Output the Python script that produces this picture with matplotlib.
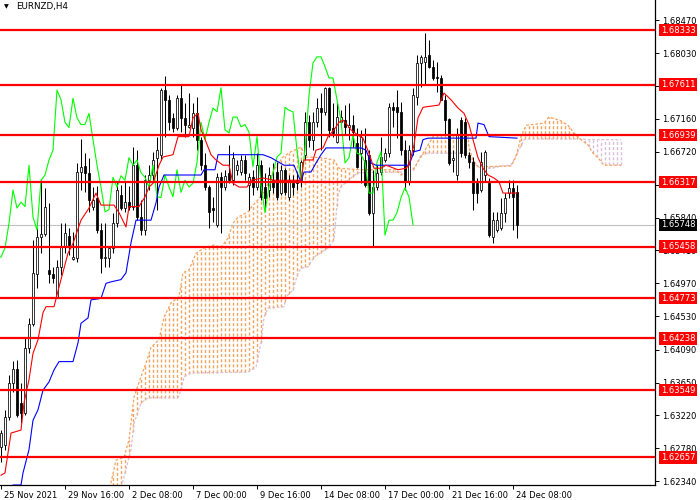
import numpy as np
import matplotlib
matplotlib.use("Agg")
import matplotlib.pyplot as plt
import matplotlib.transforms as mtransforms

# ---------------- data ----------------
SYMBOL = "EURNZD,H4"

opens = [1.6280, 1.6282, 1.6319, 1.6365, 1.6383, 1.6338, 1.6325, 1.6411, 1.6443, 1.6510,
         1.6559, 1.6563, 1.6515, 1.6510, 1.6479, 1.6519, 1.6545, 1.6560, 1.6529, 1.6531,
         1.6645, 1.6653, 1.6644, 1.6599, 1.6611, 1.6568, 1.6531, 1.6531, 1.6544, 1.6577,
         1.6615, 1.6597, 1.6605, 1.6599, 1.6654, 1.6585, 1.6568, 1.6634, 1.6641, 1.6664,
         1.6668, 1.6754, 1.6741, 1.6717, 1.6704, 1.6743, 1.6717, 1.6705, 1.6704, 1.6723,
         1.6688, 1.6654, 1.6625, 1.6597, 1.6575, 1.6638, 1.6625, 1.6644, 1.6634, 1.6648,
         1.6645, 1.6661, 1.6628, 1.6638, 1.6625, 1.6654, 1.6625, 1.6621, 1.6634, 1.6645,
         1.6617, 1.6648, 1.6612, 1.6630, 1.6634, 1.6634, 1.6668, 1.6711, 1.6688, 1.6711,
         1.6730, 1.6725, 1.6757, 1.6704, 1.6685, 1.6711, 1.6714, 1.6705, 1.6708, 1.6684,
         1.6670, 1.6661, 1.6668, 1.6591, 1.6625, 1.6645, 1.6661, 1.6670, 1.6731, 1.6731,
         1.6725, 1.6674, 1.6632, 1.6674, 1.6745, 1.6790, 1.6791, 1.6800, 1.6785, 1.6771,
         1.6770, 1.6741, 1.6715, 1.6661, 1.6641, 1.6714, 1.6711, 1.6668, 1.6658, 1.6630,
         1.6621, 1.6641, 1.6630, 1.6559, 1.6568, 1.6571, 1.6591, 1.6617, 1.6624, 1.6618]
highs = [1.6302, 1.6329, 1.6375, 1.6394, 1.6395, 1.6365, 1.6424, 1.6451, 1.6555, 1.6571,
         1.6634, 1.6624, 1.6604, 1.6519, 1.6528, 1.6577, 1.6577, 1.6571, 1.6565, 1.6657,
         1.6689, 1.6670, 1.6664, 1.6625, 1.6626, 1.6577, 1.6577, 1.6545, 1.6591, 1.6632,
         1.6628, 1.6632, 1.6626, 1.6678, 1.6674, 1.6608, 1.6641, 1.6654, 1.6672, 1.6692,
         1.6757, 1.6773, 1.6747, 1.6723, 1.6747, 1.6761, 1.6737, 1.6750, 1.6737, 1.6745,
         1.6692, 1.6670, 1.6628, 1.6612, 1.6644, 1.6645, 1.6648, 1.6681, 1.6672, 1.6661,
         1.6668, 1.6668, 1.6644, 1.6648, 1.6670, 1.6661, 1.6644, 1.6652, 1.6657, 1.6658,
         1.6654, 1.6650, 1.6641, 1.6641, 1.6645, 1.6661, 1.6725, 1.6721, 1.6725, 1.6743,
         1.6750, 1.6758, 1.6758, 1.6737, 1.6737, 1.6727, 1.6734, 1.6737, 1.6721, 1.6704,
         1.6701, 1.6704, 1.6674, 1.6648, 1.6654, 1.6692, 1.6677, 1.6737, 1.6738, 1.6754,
         1.6738, 1.6688, 1.6681, 1.6757, 1.6800, 1.6800, 1.6830, 1.6820, 1.6794, 1.6791,
         1.6774, 1.6747, 1.6717, 1.6674, 1.6704, 1.6718, 1.6717, 1.6672, 1.6665, 1.6637,
         1.6672, 1.6674, 1.6637, 1.6592, 1.6592, 1.6611, 1.6617, 1.6634, 1.6634, 1.6628]
lows = [1.6260, 1.6276, 1.6315, 1.6353, 1.6319, 1.6311, 1.6322, 1.6404, 1.6440, 1.6491,
        1.6537, 1.6560, 1.6498, 1.6498, 1.6478, 1.6508, 1.6537, 1.6535, 1.6528, 1.6525,
        1.6621, 1.6618, 1.6592, 1.6595, 1.6564, 1.6511, 1.6519, 1.6519, 1.6537, 1.6572,
        1.6595, 1.6592, 1.6595, 1.6595, 1.6581, 1.6561, 1.6561, 1.6621, 1.6634, 1.6595,
        1.6661, 1.6692, 1.6701, 1.6698, 1.6701, 1.6698, 1.6692, 1.6704, 1.6692, 1.6674,
        1.6648, 1.6621, 1.6571, 1.6579, 1.6572, 1.6564, 1.6621, 1.6630, 1.6628, 1.6641,
        1.6641, 1.6634, 1.6595, 1.6615, 1.6621, 1.6608, 1.6595, 1.6612, 1.6617, 1.6608,
        1.6615, 1.6615, 1.6608, 1.6615, 1.6621, 1.6625, 1.6661, 1.6678, 1.6674, 1.6705,
        1.6674, 1.6721, 1.6692, 1.6692, 1.6684, 1.6705, 1.6694, 1.6688, 1.6678, 1.6650,
        1.6630, 1.6625, 1.6588, 1.6545, 1.6621, 1.6641, 1.6658, 1.6665, 1.6705, 1.6690,
        1.6668, 1.6621, 1.6628, 1.6668, 1.6734, 1.6758, 1.6761, 1.6783, 1.6767, 1.6751,
        1.6741, 1.6694, 1.6654, 1.6645, 1.6634, 1.6665, 1.6664, 1.6650, 1.6595, 1.6604,
        1.6618, 1.6632, 1.6559, 1.6551, 1.6565, 1.6568, 1.6579, 1.6611, 1.6568, 1.6557]
closes = [1.6298, 1.6319, 1.6365, 1.6383, 1.6322, 1.6325, 1.6411, 1.6443, 1.6511, 1.6559,
          1.6563, 1.6599, 1.6510, 1.6504, 1.6519, 1.6545, 1.6564, 1.6548, 1.6532, 1.6645,
          1.6652, 1.6644, 1.6608, 1.6608, 1.6568, 1.6531, 1.6532, 1.6544, 1.6577, 1.6621,
          1.6597, 1.6605, 1.6599, 1.6654, 1.6585, 1.6568, 1.6634, 1.6641, 1.6661, 1.6674,
          1.6754, 1.6741, 1.6711, 1.6704, 1.6743, 1.6717, 1.6708, 1.6708, 1.6723, 1.6688,
          1.6654, 1.6625, 1.6592, 1.6595, 1.6638, 1.6625, 1.6640, 1.6634, 1.6664, 1.6654,
          1.6661, 1.6644, 1.6638, 1.6625, 1.6654, 1.6612, 1.6611, 1.6641, 1.6625, 1.6612,
          1.6648, 1.6618, 1.6634, 1.6625, 1.6630, 1.6658, 1.6711, 1.6688, 1.6711, 1.6730,
          1.6725, 1.6757, 1.6701, 1.6697, 1.6718, 1.6718, 1.6705, 1.6708, 1.6698, 1.6652,
          1.6692, 1.6628, 1.6591, 1.6625, 1.6644, 1.6665, 1.6670, 1.6731, 1.6727, 1.6725,
          1.6674, 1.6632, 1.6674, 1.6747, 1.6790, 1.6798, 1.6798, 1.6785, 1.6770, 1.6770,
          1.6741, 1.6714, 1.6657, 1.6664, 1.6694, 1.6670, 1.6668, 1.6658, 1.6617, 1.6617,
          1.6658, 1.6672, 1.6561, 1.6581, 1.6581, 1.6591, 1.6611, 1.6624, 1.6612, 1.65748]

# Ichimoku lines, vertices as (bar index, price)
tenkan_bar = [0, 1, 2.5, 5, 5.75, 7, 8, 9.25, 10.5, 11.25, 13.25, 14.5, 16.75, 18, 20, 22,
              23.75, 25, 28.25, 29.5, 31.25, 32, 34.5, 36, 37, 38, 39.5, 40.5, 43, 44.25,
              47, 48, 49.25, 50, 50.75, 52.5, 53.75, 55.5, 57, 58, 59.5, 61.5, 62.5, 65.5,
              68.25, 75, 75.75, 78, 78.75, 80.5, 81.75, 83.25, 84.5, 85.5, 86.5, 87.5, 89.25,
              90.5, 92, 93.25, 95, 96.25, 99.25, 101.25, 102, 103.25, 104.25, 105.5, 109.5,
              110.75, 112.5, 114.25, 115.75, 117, 118, 119.25, 120.5, 121.75, 123.25, 124.5,
              125.5, 129]
tenkan_val = [1.6242, 1.6245, 1.6298, 1.6302, 1.6338, 1.6369, 1.6404, 1.6422, 1.6458, 1.6466,
              1.6466, 1.6492, 1.6537, 1.6550, 1.6581, 1.6597, 1.6617, 1.6601, 1.6601, 1.6591,
              1.6572, 1.6599, 1.6599, 1.6612, 1.6625, 1.6630, 1.6654, 1.6665, 1.6668, 1.6692,
              1.6692, 1.6717, 1.6723, 1.6701, 1.6692, 1.6668, 1.6661, 1.6654, 1.6654, 1.6630,
              1.6625, 1.6625, 1.6634, 1.6637, 1.6634, 1.6634, 1.6661, 1.6661, 1.6674, 1.6677,
              1.6692, 1.6701, 1.6711, 1.6714, 1.6708, 1.6701, 1.6694, 1.6690, 1.6670, 1.6650,
              1.6650, 1.6654, 1.6648, 1.6650, 1.6654, 1.6681, 1.6717, 1.6731, 1.6734, 1.6750,
              1.6741, 1.6730, 1.6723, 1.6708, 1.6688, 1.6664, 1.6650, 1.6641, 1.6637, 1.6632,
              1.6617, 1.6617]

kijun_bar = [2, 3, 5, 5.5, 7, 8, 9.25, 10.5, 12, 13.25, 14.5, 18, 19.25, 20, 21.75, 22.5,
             25, 26.25, 27.5, 30, 31.25, 32.5, 33.75, 37.5, 38.75, 39.5, 40.75, 50, 50.75,
             53.5, 54.25, 65.5, 67.5, 70.75, 73.25, 74.25, 75, 75.75, 77.5, 78.75, 80, 81.25,
             90, 91.25, 92.5, 93.75, 102, 103.25, 104.75, 105.5, 106.75, 118.75, 119.25,
             120.75, 122, 129]
kijun_val = [1.6213, 1.6229, 1.6229, 1.6245, 1.6276, 1.6315, 1.6329, 1.6355, 1.6366, 1.6382,
             1.6393, 1.6393, 1.6418, 1.6444, 1.6451, 1.6475, 1.6477, 1.6497, 1.6499, 1.6502,
             1.6511, 1.6551, 1.6581, 1.6581, 1.6604, 1.6625, 1.6641, 1.6641, 1.6648, 1.6648,
             1.6668, 1.6668, 1.6664, 1.6654, 1.6654, 1.6641, 1.6632, 1.6645, 1.6645, 1.6657,
             1.6668, 1.6677, 1.6677, 1.6674, 1.6657, 1.6654, 1.6654, 1.6672, 1.6674, 1.6688,
             1.6690, 1.6690, 1.6710, 1.6708, 1.6692, 1.6690]

senkou_a_bar = [26.25, 27.5, 28.75, 30.75, 32, 33.25, 35, 36.25, 37.5, 39.5, 40.75, 42.5,
                44.5, 45.5, 47, 48.75, 50.75, 53.25, 55, 56.75, 58, 59.25, 61.75, 63, 64.25,
                65.5, 66.75, 68.25, 70.5, 72.5, 75, 76.25, 80, 83.25, 84.5, 90, 98.75, 100,
                103.25, 105.75, 108.25, 116.75, 117, 118, 119.25, 127.5, 128.75, 130, 131.25,
                135.75, 137, 140, 141.75, 143.25, 145, 146.75, 148, 149.25, 150.75, 155]
senkou_a_val = [1.6214, 1.6232, 1.6262, 1.6266, 1.6289, 1.6346, 1.6373, 1.6391, 1.6412, 1.6422,
                1.6452, 1.6471, 1.6479, 1.6511, 1.6515, 1.6537, 1.6544, 1.6548, 1.6545, 1.6557,
                1.6577, 1.6585, 1.6592, 1.6601, 1.6608, 1.6617, 1.6630, 1.6648, 1.6665, 1.6672,
                1.6678, 1.6665, 1.6664, 1.6661, 1.6650, 1.6648, 1.6648, 1.6641, 1.6650, 1.6672,
                1.6694, 1.6694, 1.6677, 1.6661, 1.6652, 1.6653, 1.6665, 1.6692, 1.6707, 1.6710,
                1.6718, 1.6713, 1.6707, 1.6697, 1.6688, 1.6681, 1.6670, 1.6664, 1.6654, 1.6654]
senkou_b_bar = [29.5, 32.5, 33.25, 35, 36.75, 44.25, 45, 45.75, 47.5, 61.75, 63.75, 65,
                65.75, 66.75, 70.75, 71.25, 73, 74.25, 75, 76.75, 78.25, 81.75, 83.25, 84.25,
                85, 86.75, 89.25, 100, 103.25, 105, 106.75, 116.75, 118, 120, 122.5, 125,
                127.5, 129.25, 130.75, 131.75, 145, 146.75, 155]
senkou_b_val = [1.6214, 1.6276, 1.6311, 1.6338, 1.6345, 1.6345, 1.6355, 1.6373, 1.6378, 1.6379,
                1.6386, 1.6418, 1.6452, 1.6464, 1.6466, 1.6479, 1.6488, 1.6511, 1.6517, 1.6519,
                1.6532, 1.6544, 1.6555, 1.6615, 1.6625, 1.6634, 1.6644, 1.6645, 1.6648, 1.6668,
                1.6670, 1.6670, 1.6657, 1.6650, 1.6650, 1.6653, 1.6654, 1.6672, 1.6688, 1.6689,
                1.6689, 1.6688, 1.6688]

levels = [1.68333, 1.67611, 1.66939, 1.66317, 1.65458, 1.64773, 1.64238, 1.63549, 1.62657]
last_price = 1.65748

price_ticks = [1.68470, 1.68030, 1.67590, 1.67160, 1.66720, 1.66280, 1.65840, 1.65410,
               1.64970, 1.64530, 1.64090, 1.63650, 1.63220, 1.62780, 1.62340]
date_ticks = [0, 16, 32, 48, 64, 80, 96, 112, 128]
date_labels = ["25 Nov 2021", "29 Nov 16:00", "2 Dec 08:00", "7 Dec 00:00", "9 Dec 16:00",
               "14 Dec 08:00", "17 Dec 00:00", "21 Dec 16:00", "24 Dec 08:00"]

CHIKOU_SHIFT = 26

# ---------------- figure ----------------
plt.rcParams['font.family'] = 'DejaVu Sans'
fig = plt.figure(figsize=(7, 5), dpi=100)
ax = fig.add_axes([0, 15/500, 655/700, 485/500])

o = np.array(opens); h = np.array(highs); l = np.array(lows); c = np.array(closes)
x = np.arange(len(o))

# cloud: vertical dashed hatch between span A and span B
dash = (0, (2.2, 1.5))
cb = np.arange(27, 156)
sa = np.interp(cb, senkou_a_bar, senkou_a_val)
sb = np.interp(cb, senkou_b_bar, senkou_b_val)
up = sa >= sb
ax.vlines(cb[up], sb[up], sa[up], colors='#f4a460', linestyles=dash, lw=1.0, zorder=1)
ax.vlines(cb[~up], sa[~up], sb[~up], colors='#d8bfd8', linestyles=dash, lw=1.0, zorder=1)
ax.plot(senkou_b_bar, senkou_b_val, color='#d8bfd8', lw=0.9, ls=dash, zorder=1.1)
ax.plot(senkou_a_bar, senkou_a_val, color='#f4a460', lw=0.9, ls=dash, zorder=1.2)

# candles
bull = c >= o
ax.vlines(x, l, h, color='black', lw=0.75, zorder=3)
body_lo = np.minimum(o, c)
body_h = np.maximum(np.abs(c - o), 0.00008)
ax.bar(x, body_h, bottom=body_lo, width=0.7,
       color=np.where(bull, 'white', 'black'), edgecolor='black', linewidth=0.55, zorder=3.1)

# ichimoku lines
ax.plot(x - CHIKOU_SHIFT, c, color='#00ff00', lw=0.8, zorder=4)
ax.plot(kijun_bar, kijun_val, color='#0000ff', lw=0.8, zorder=4)
ax.plot(tenkan_bar, tenkan_val, color='#ff0000', lw=0.8, zorder=4)

# current price line
ax.axhline(last_price, color='#c0c0c0', lw=0.8, zorder=2)

# horizontal levels
for lv in levels:
    ax.axhline(lv, color='#ff0000', lw=1.6, zorder=6)

ax.set_xlim(-0.25, 163.5)
ax.set_ylim(1.62290, 1.68736)

# axes styling
for s in ['top', 'left']:
    ax.spines[s].set_visible(False)
for s in ['bottom', 'right']:
    ax.spines[s].set_linewidth(0.9)
ax.yaxis.tick_right()
ax.set_yticks(price_ticks)
ax.set_yticklabels([f"{t:.5f}" for t in price_ticks])
ax.tick_params(axis='y', length=3, width=0.7, pad=2, labelsize=6)
ax.set_xticks(date_ticks)
ax.set_xticklabels(date_labels, ha='left')
ax.tick_params(axis='x', length=3, width=0.7, pad=1, labelsize=6)
shift = mtransforms.ScaledTranslation(3/100, 0, fig.dpi_scale_trans)
for lbl in ax.get_xticklabels():
    lbl.set_transform(lbl.get_transform() + shift)

# price labels on the right scale
trans = mtransforms.blended_transform_factory(ax.transAxes, ax.transData) + \
    mtransforms.ScaledTranslation(6/100, 0, fig.dpi_scale_trans)
for lv in levels:
    ax.text(1.0, lv, f"{lv:.5f}", transform=trans, ha='left', va='center', fontsize=6,
            color='white', clip_on=False, zorder=10,
            bbox=dict(boxstyle='square,pad=0.2', fc='#ff0000', ec='none'))
ax.text(1.0, last_price, f"{last_price:.5f}", transform=trans, ha='left', va='center',
        fontsize=6, color='white', clip_on=False, zorder=10,
        bbox=dict(boxstyle='square,pad=0.2', fc='black', ec='none'))

# title
fig.text(4/700, 1 - 7/500, "\u25BC", fontsize=4.5, va='center', ha='left')
fig.text(16/700, 1 - 7/500, SYMBOL, fontsize=6.3, va='center', ha='left')

fig.savefig("out.png", dpi=100)
